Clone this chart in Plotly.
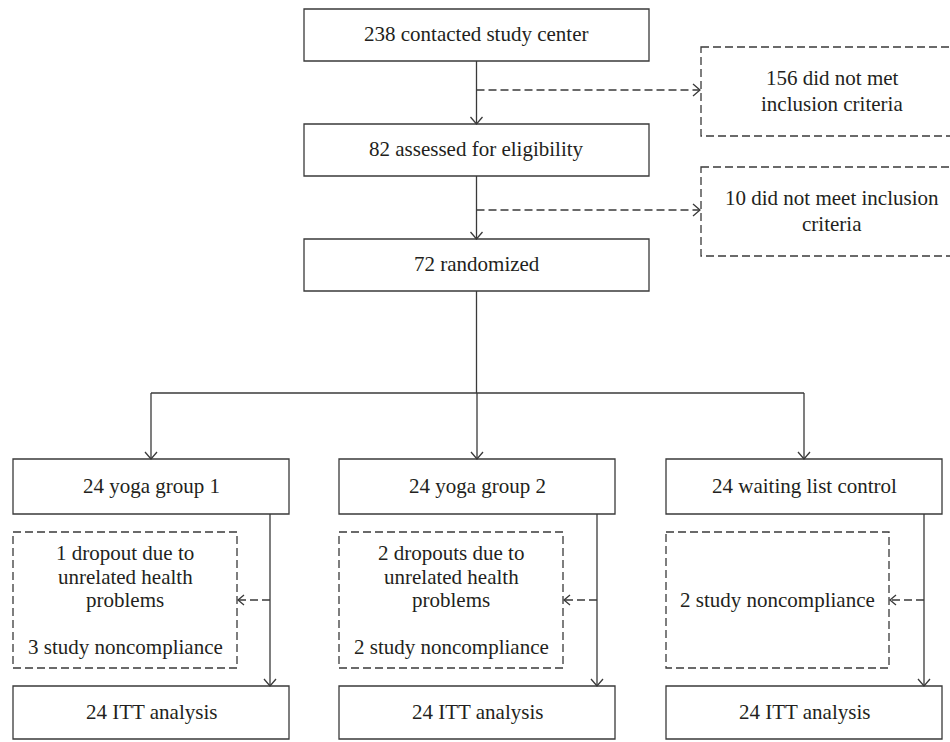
import plotly.graph_objects as go

# ---------------- content ----------------
main_labels = ["238 contacted study center", "82 assessed for eligibility", "72 randomized"]
excluded_labels = [["156 did not met", "inclusion criteria"],
                   ["10 did not meet inclusion", "criteria"]]
group_labels = ["24 yoga group 1", "24 yoga group 2", "24 waiting list control"]
loss_labels = [["1 dropout due to", "unrelated health", "problems", "", "3 study noncompliance"],
               ["2 dropouts due to", "unrelated health", "problems", "", "2 study noncompliance"],
               ["2 study noncompliance"]]
analysis_labels = ["24 ITT analysis", "24 ITT analysis", "24 ITT analysis"]

# ---------------- layout geometry (pixels, y downward) ----------------
W, H = 950, 742
main_x = (304, 649)
main_y = [(9, 61), (124, 176), (239, 291)]
excl_x = (701, 963)
excl_y = [(47, 136), (167, 256)]
excl_arrow_y = [90, 210]
excl_text_x = 832
group_x = [(13, 289), (339, 615), (666, 942)]
group_y = (459, 514)
loss_x = [(13, 237), (339, 563), (666, 889)]
loss_y = (532, 668)
side_x = [270, 597, 924]
loss_arrow_y = 600
itt_y = (686, 739)
branch_y = 393

LINE = "#3a3a3a"
TEXT = "#231f20"
FONT = "Liberation Serif, Times New Roman, serif"
FS = 21
LW = 1.3
DASH = "8px,4px"

shapes = []
annotations = []


def rect(x0, y0, x1, y1, dash="solid"):
    shapes.append(dict(type="rect", xref="x", yref="y", x0=x0, x1=x1, y0=y0, y1=y1,
                       line=dict(color=LINE, width=LW, dash=dash), fillcolor="rgba(0,0,0,0)",
                       layer="above"))


def seg(x0, y0, x1, y1, dash="solid"):
    shapes.append(dict(type="line", xref="x", yref="y", x0=x0, x1=x1, y0=y0, y1=y1,
                       line=dict(color=LINE, width=LW, dash=dash)))


def chevron(x, y, direction):
    if direction == "down":
        p = f"M {x-6},{y-7} L {x},{y} L {x+6},{y-7}"
    elif direction == "right":
        p = f"M {x-7},{y-6} L {x},{y} L {x-7},{y+6}"
    else:  # left
        p = f"M {x+6},{y-5} L {x},{y} L {x+6},{y+5}"
    shapes.append(dict(type="path", xref="x", yref="y", path=p,
                       line=dict(color=LINE, width=LW)))


def text_lines(lines, cx, cy, spacing):
    n = len(lines)
    for i, t in enumerate(lines):
        if not t:
            continue
        y = cy + (i - (n - 1) / 2) * spacing
        annotations.append(dict(x=cx, y=y, xref="x", yref="y", text=t, showarrow=False,
                                font=dict(family=FONT, size=FS, color=TEXT),
                                xanchor="center", yanchor="middle"))


cx_main = (main_x[0] + main_x[1]) / 2

# main boxes
for lab, (y0, y1) in zip(main_labels, main_y):
    rect(main_x[0], y0, main_x[1], y1)
    text_lines([lab], cx_main, (y0 + y1) / 2 - 1, 26)

# main downward connectors
for i in range(len(main_y) - 1):
    seg(cx_main, main_y[i][1], cx_main, main_y[i + 1][0])
    chevron(cx_main, main_y[i + 1][0], "down")

# excluded boxes and dashed arrows
for lines, (y0, y1), ay in zip(excluded_labels, excl_y, excl_arrow_y):
    rect(excl_x[0], y0, excl_x[1], y1, dash=DASH)
    text_lines(lines, excl_text_x, (y0 + y1) / 2 - 1, 26)
    seg(cx_main, ay, excl_x[0] - 1, ay, dash=DASH)
    chevron(excl_x[0] - 1, ay, "right")

# branch
seg(cx_main, main_y[-1][1], cx_main, branch_y)
gcx = [(a + b) / 2 for a, b in group_x]
seg(gcx[0], branch_y, gcx[-1], branch_y)
for cx in gcx:
    seg(cx, branch_y, cx, group_y[0])
    chevron(cx, group_y[0], "down")

# groups
for k in range(3):
    gx0, gx1 = group_x[k]
    rect(gx0, group_y[0], gx1, group_y[1])
    text_lines([group_labels[k]], (gx0 + gx1) / 2, (group_y[0] + group_y[1]) / 2 - 1, 26)

    lx0, lx1 = loss_x[k]
    rect(lx0, loss_y[0], lx1, loss_y[1], dash=DASH)
    text_lines(loss_labels[k], (lx0 + lx1) / 2, (loss_y[0] + loss_y[1]) / 2, 23.5)

    sx = side_x[k]
    seg(sx, group_y[1], sx, itt_y[0])
    chevron(sx, itt_y[0], "down")
    seg(sx, loss_arrow_y, lx1 + 1, loss_arrow_y, dash=DASH)
    chevron(lx1 + 1, loss_arrow_y, "left")

    rect(gx0, itt_y[0], gx1, itt_y[1])
    text_lines([analysis_labels[k]], (gx0 + gx1) / 2, (itt_y[0] + itt_y[1]) / 2 - 1, 26)

fig = go.Figure()
fig.add_trace(go.Scatter(x=[0, W], y=[0, H], mode="markers", marker=dict(opacity=0),
                         hoverinfo="skip", showlegend=False))
fig.update_layout(
    width=W, height=H,
    margin=dict(l=0, r=0, t=0, b=0),
    paper_bgcolor="white", plot_bgcolor="white",
    xaxis=dict(range=[0, W], visible=False, fixedrange=True),
    yaxis=dict(range=[H, 0], visible=False, fixedrange=True),
    shapes=shapes, annotations=annotations, showlegend=False,
)
fig.write_html(
    "out.html",
    config={"displayModeBar": False},
    post_script="document.body.style.margin='0';document.body.style.overflow='hidden';",
)
